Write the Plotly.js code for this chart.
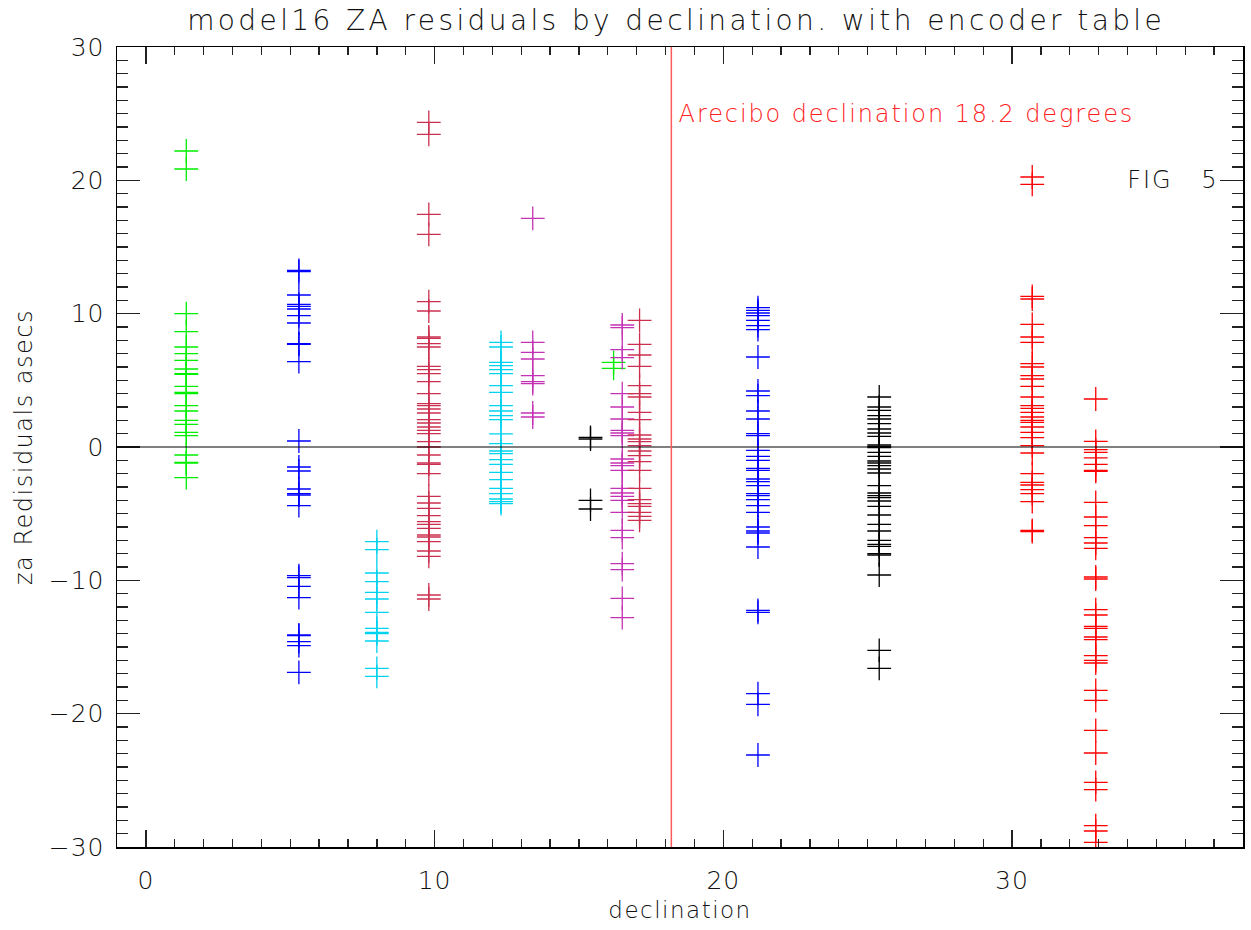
<!DOCTYPE html>
<html>
<head>
<meta charset="utf-8">
<script src="https://cdn.plot.ly/plotly-3.0.1.min.js"></script>
<style>
html,body{margin:0;padding:0;background:#fff;}
#chart{width:1251px;height:930px;}
#chart .gtitle{letter-spacing:3.4px;}
#chart .annotation-text{letter-spacing:1.9px;}
#chart .xtitle,#chart .ytitle{letter-spacing:1.5px;}
#chart .xtick text,#chart .ytick text{letter-spacing:1px;}
</style>
</head>
<body>
<div id="chart"></div>
<script>
// declination of each group and residual values (arcsec)
const decGreen1 = 1.4;
const resGreen1 = [22.2, 20.85, 10.0, 8.65, 7.5, 7.0, 6.5, 5.85, 5.5, 5.45, 4.55, 4.1, 4.0, 3.1, 2.7, 2.0, 1.7, 1.1, 0.85, -0.6, -1.15, -1.2, -2.3];
const decBlue1 = 5.3;
const resBlue1 = [13.25, 13.15, 11.4, 10.7, 10.55, 10.35, 9.85, 9.3, 7.75, 7.7, 6.4, 0.45, -1.5, -1.8, -3.15, -3.5, -3.6, -4.4, -9.65, -9.8, -10.45, -11.3, -14.1, -14.15, -14.6, -14.9, -16.9];
const decCyan1 = 8.0;
const resCyan1 = [-7.1, -7.7, -9.45, -10.1, -10.9, -11.4, -12.4, -13.6, -13.9, -14.0, -14.55, -16.6, -17.2];
const decCrimson1 = 9.8;
const resCrimson1 = [24.35, 23.45, 17.45, 15.95, 10.9, 10.2, 8.25, 8.15, 7.75, 7.5, 6.05, 5.8, 5.5, 4.9, 4.0, 3.25, 3.1, 2.85, 2.55, 2.05, 1.8, 1.5, 1.25, 1.0, 0.4, 0.0, -0.6, -1.2, -1.3, -2.0, -3.7, -4.2, -4.6, -5.15, -5.6, -5.8, -6.1, -6.6, -6.75, -7.1, -7.8, -8.2, -11.1, -11.4];
const decCyan2 = 12.3;
const resCyan2 = [7.85, 7.5, 6.35, 6.1, 5.8, 5.5, 4.6, 4.1, 3.1, 2.7, 2.35, 2.05, 0.98, 0.25, -0.3, -0.5, -0.95, -1.3, -1.9, -2.45, -3.1, -3.5, -3.9, -4.1, -4.25];
const decMagenta1 = 13.4;
const resMagenta1 = [17.15, 7.85, 7.1, 6.6, 5.35, 4.9, 4.75, 2.55, 2.25];
const decBlack1 = 15.4;
const resBlack1 = [0.72, 0.6, -4.0, -4.65];
const decGreen2 = 16.2;
const resGreen2 = [6.35, 5.9];
const decMagenta2 = 16.5;
const resMagenta2 = [9.15, 8.95, 7.3, 6.7, 4.0, 3.0, 2.1, 1.25, 1.05, 0.85, -0.9, -1.2, -1.4, -1.75, -3.1, -3.45, -3.7, -4.0, -4.9, -6.25, -6.8, -8.75, -9.2, -11.35, -12.8];
const decCrimson2 = 17.1;
const resCrimson2 = [9.5, 7.7, 6.9, 6.05, 4.6, 4.0, 3.75, 2.6, 2.05, 0.9, 0.6, 0.4, 0.1, -0.3, -0.65, -1.1, -1.75, -3.1, -3.95, -4.25, -4.45, -4.9, -5.2, -5.5];
const decBlue2 = 21.2;
const resBlue2 = [10.45, 10.25, 10.05, 9.85, 9.5, 9.1, 8.8, 6.75, 4.2, 3.85, 2.7, 2.1, 1.0, 0.85, -0.25, -0.7, -1.0, -1.6, -1.75, -2.4, -2.6, -2.9, -3.5, -3.65, -3.95, -4.4, -4.9, -6.0, -6.3, -6.45, -7.5, -12.25, -12.4, -18.5, -19.3, -23.1];
const decBlack2 = 25.4;
const resBlack2 = [3.75, 3.0, 2.75, 2.35, 2.1, 1.75, 1.35, 1.05, 0.8, 0.15, 0.05, -0.05, -0.4, -0.7, -1.05, -1.2, -1.4, -1.65, -1.95, -2.9, -3.45, -3.65, -3.8, -4.05, -4.45, -5.1, -5.8, -6.3, -7.0, -7.3, -7.45, -8.0, -8.1, -9.6, -15.25, -16.6];
const decRed1 = 30.7;
const resRed1 = [20.25, 19.7, 11.3, 11.1, 9.2, 8.25, 7.85, 6.25, 6.0, 5.35, 5.1, 4.55, 3.75, 3.1, 2.9, 2.6, 2.25, 2.0, 1.85, 1.5, 1.1, 0.7, 0.1, -0.45, -2.0, -2.65, -2.85, -3.2, -3.5, -4.1, -6.25, -6.35];
const decRed2 = 32.9;
const resRed2 = [3.6, 0.42, -0.2, -0.4, -0.82, -1.3, -1.75, -1.82, -4.15, -5.25, -5.9, -6.8, -7.2, -7.6, -9.75, -9.9, -12.2, -12.6, -13.45, -13.6, -14.25, -14.45, -15.65, -16.0, -16.2, -18.25, -19.0, -21.25, -22.95, -25.15, -25.7, -28.4, -28.8, -29.65];

const areciboDec = 18.2;
const xTickVals = [0, 10, 20, 30];
const yTickVals = [-30, -20, -10, 0, 10, 20, 30];

const groups = [
  [decGreen1, resGreen1, '#00ee00'],
  [decBlue1, resBlue1, '#0000ff'],
  [decCyan1, resCyan1, '#00d2f0'],
  [decCrimson1, resCrimson1, '#cc3050'],
  [decCyan2, resCyan2, '#00d2f0'],
  [decMagenta1, resMagenta1, '#c433b4'],
  [decBlack1, resBlack1, '#000000'],
  [decGreen2, resGreen2, '#00ee00'],
  [decMagenta2, resMagenta2, '#c433b4'],
  [decCrimson2, resCrimson2, '#cc3050'],
  [decBlue2, resBlue2, '#0000ff'],
  [decBlack2, resBlack2, '#000000'],
  [decRed1, resRed1, '#ff0000'],
  [decRed2, resRed2, '#ff0000']
];

const traces = groups.map(g => ({
  type: 'scatter',
  mode: 'markers',
  x: g[1].map(() => g[0]),
  y: g[1],
  marker: {symbol: 'cross-thin', size: 17, color: g[2], line: {color: g[2], width: 1.3}},
  showlegend: false,
  hoverinfo: 'x+y'
}));

const FONT = 'DejaVu Sans, Liberation Sans, sans-serif';
const W = 200;
const axisCommon = {
  showgrid: false, zeroline: false, showline: true, linecolor: '#000', linewidth: 1.5,
  mirror: 'ticks', ticks: 'inside', tickcolor: '#222', tickwidth: 1.3,
  tickfont: {family: FONT, size: 25, color: '#111', weight: W}
};

const layout = {
  width: 1251, height: 930,
  margin: {l: 117, r: 8, t: 47, b: 83},
  paper_bgcolor: '#fff', plot_bgcolor: '#fff',
  title: {text: 'model16 ZA residuals by declination. with encoder table',
          font: {family: FONT, size: 28, color: '#111', weight: W}, x: 0.4966, xanchor: 'center', y: 0.978, yanchor: 'middle', xref: 'paper'},
  xaxis: Object.assign({}, axisCommon, {
    range: [-1, 38], tickvals: xTickVals, ticklen: 17, ticklabelstandoff: 10,
    minor: {dtick: 1, ticks: 'inside', ticklen: 8, tickcolor: '#222', tickwidth: 1.3},
    title: {text: 'declination', font: {family: FONT, size: 23, color: '#111', weight: W}, standoff: 8}
  }),
  yaxis: Object.assign({}, axisCommon, {
    range: [-30, 30], tickvals: yTickVals, ticklen: 23, ticklabelstandoff: 6,
    minor: {dtick: 1, ticks: 'inside', ticklen: 11, tickcolor: '#222', tickwidth: 1.3},
    title: {text: 'za Redisiduals asecs', font: {family: FONT, size: 24, color: '#111', weight: W}, standoff: 12}
  }),
  shapes: [
    {type: 'line', xref: 'x', yref: 'y', x0: -1, x1: 38, y0: 0, y1: 0, line: {color: '#000', width: 1.2}},
    {type: 'line', xref: 'x', yref: 'paper', x0: areciboDec, x1: areciboDec, y0: 0, y1: 1, line: {color: '#ff5a5a', width: 1.5}}
  ],
  annotations: [
    {xref: 'x', yref: 'y', x: areciboDec + 1.25, y: 25.0, xanchor: 'left', yanchor: 'middle', showarrow: false,
     text: 'Arecibo declination 18.2 degrees', font: {family: FONT, size: 24, color: '#ff2020', weight: W}},
    {xref: 'x', yref: 'y', x: 37.0, y: 20.0, xanchor: 'right', yanchor: 'middle', showarrow: false,
     text: 'FIG&nbsp;&nbsp;&nbsp;5', font: {family: FONT, size: 24, color: '#111', weight: W}}
  ]
};

Plotly.newPlot('chart', traces, layout, {displayModeBar: false, staticPlot: true});
</script>
</body>
</html>
